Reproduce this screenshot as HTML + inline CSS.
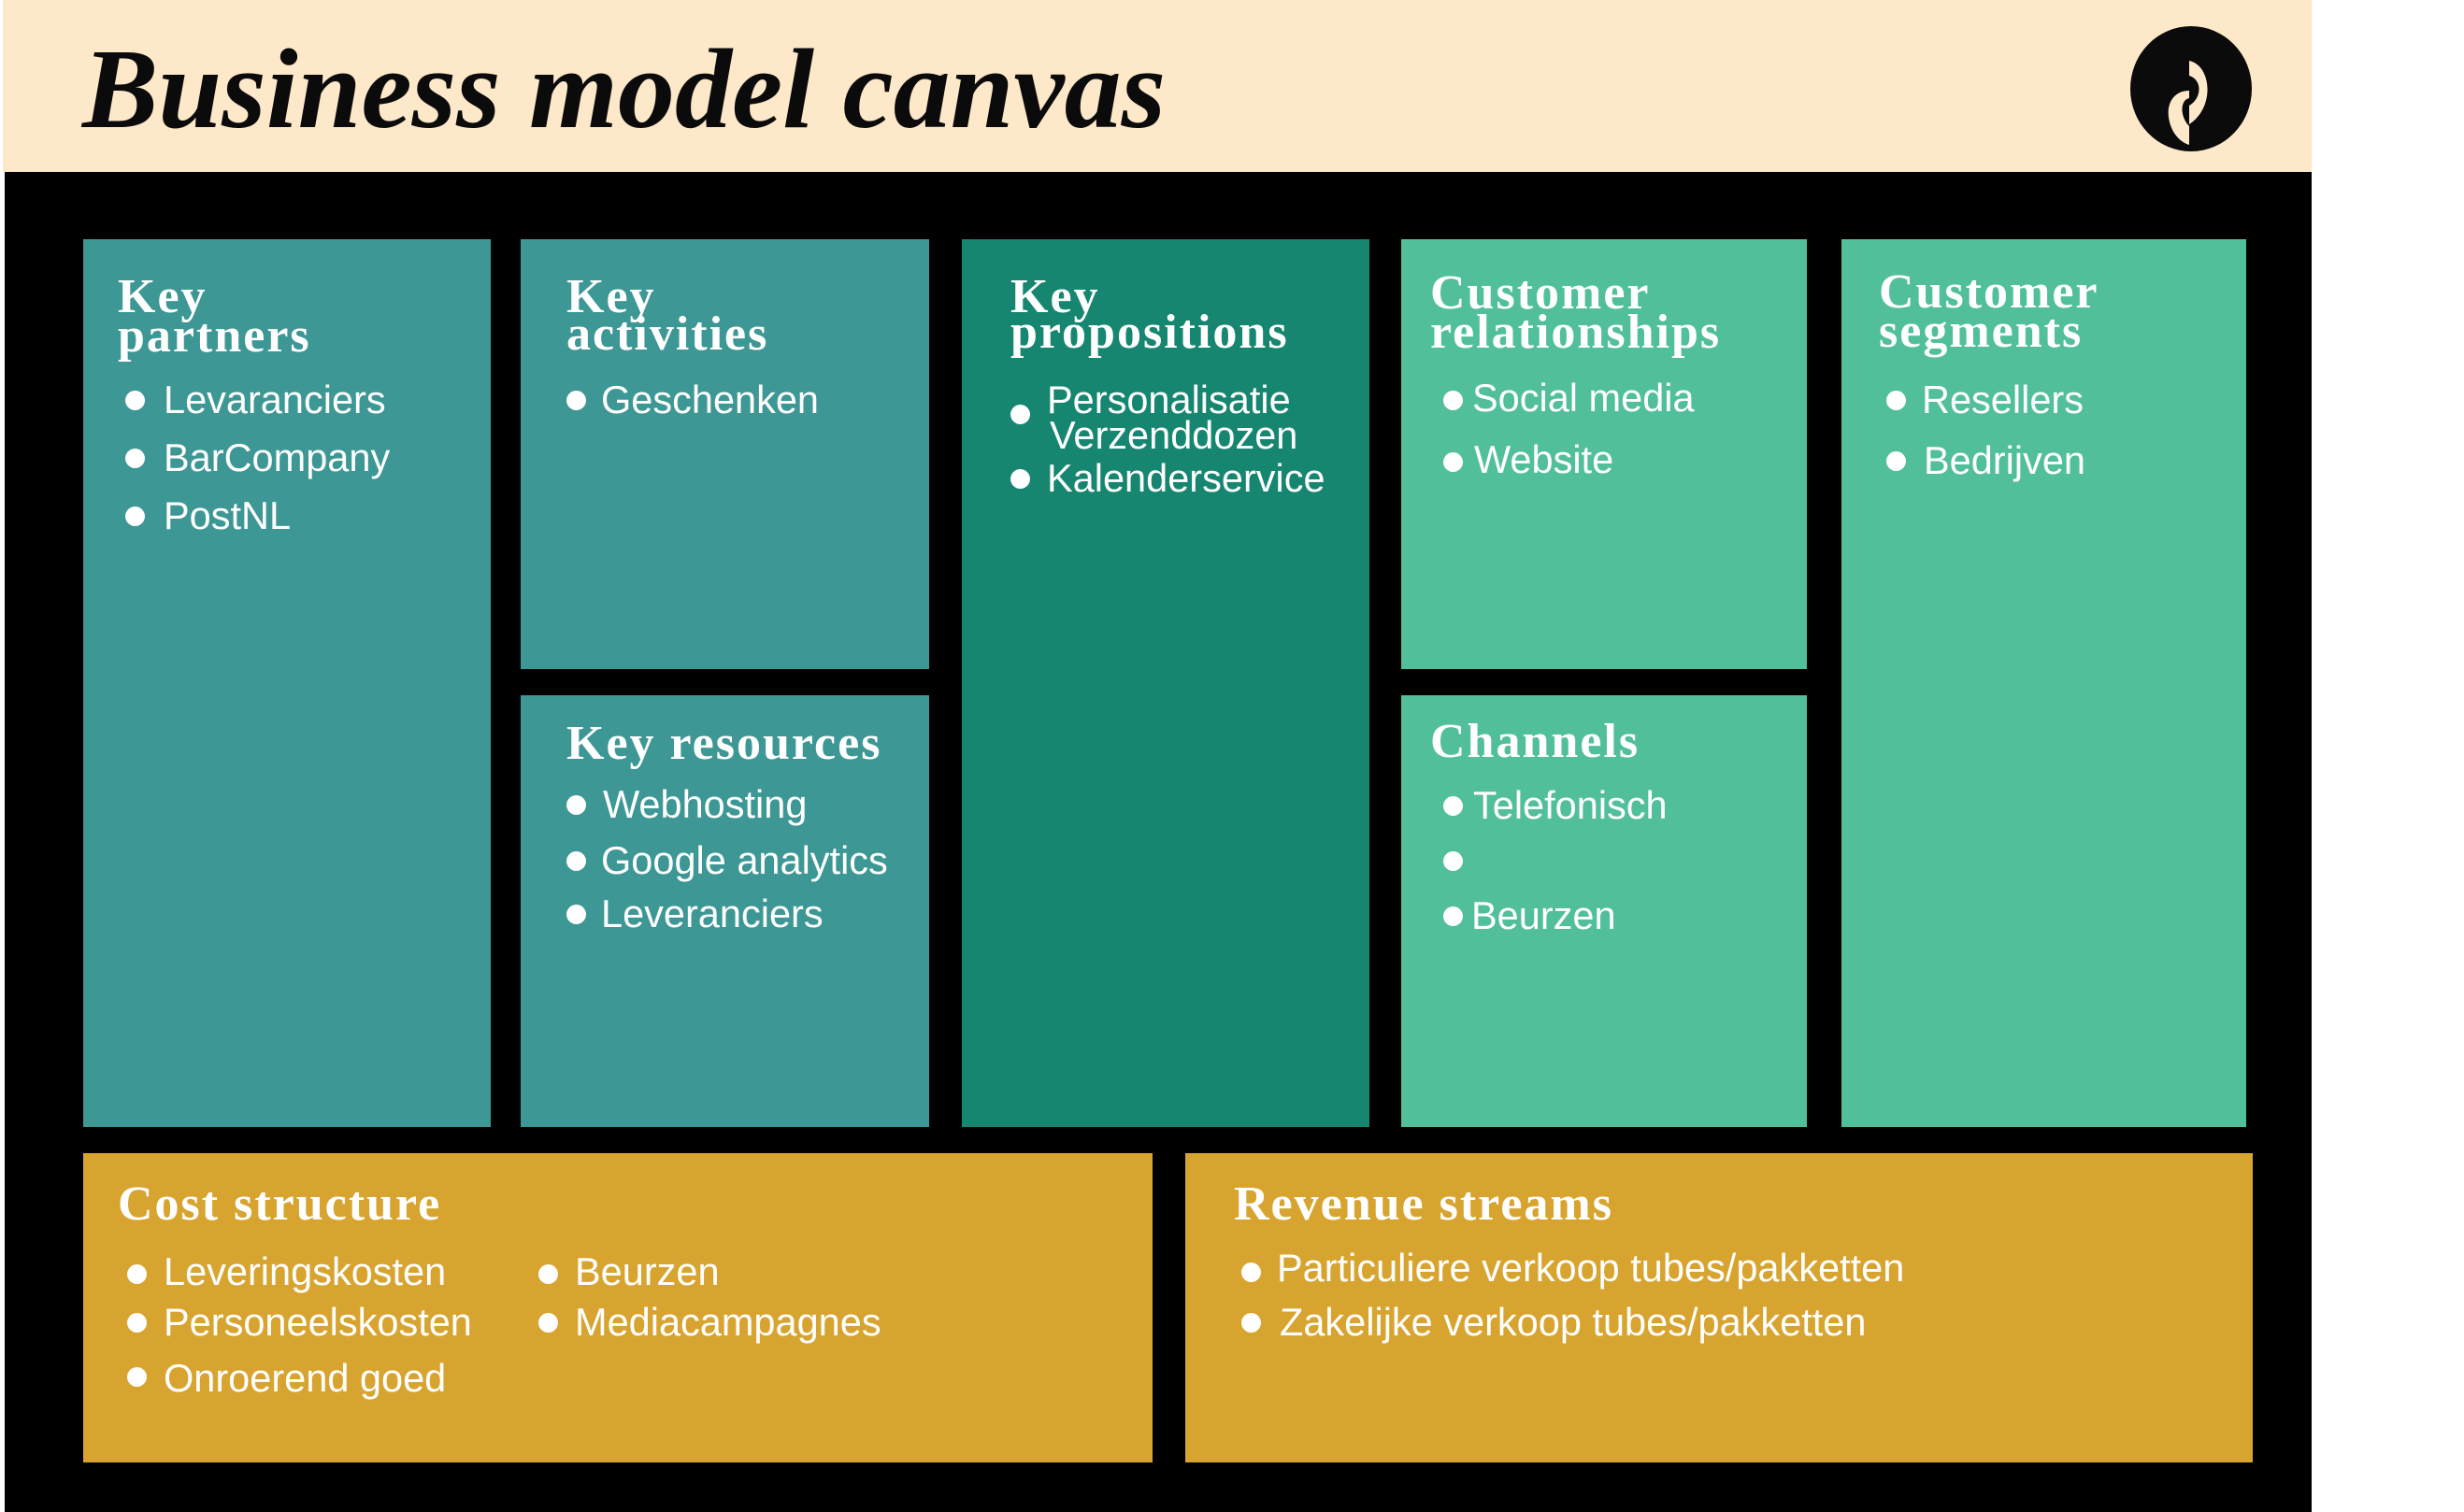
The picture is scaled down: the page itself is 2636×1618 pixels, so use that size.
<!DOCTYPE html>
<html><head><meta charset="utf-8"><style>
*{margin:0;padding:0;box-sizing:border-box}
body{width:2636px;height:1618px;background:#fff;position:relative;overflow:hidden;font-family:"Liberation Sans",sans-serif}
.a{position:absolute}
.box{position:absolute}
.h{position:absolute;font-family:"Liberation Serif",serif;font-weight:bold;font-size:52px;letter-spacing:2px;line-height:1;color:#fff;white-space:nowrap}
.t{position:absolute;font-size:41.5px;line-height:1;color:#fff;white-space:nowrap}
.d{position:absolute;width:21px;height:21px;border-radius:50%;background:#fff}
</style></head><body>
<div class="a" style="left:3px;top:0;width:2470px;height:184px;background:#fde8c9"></div>
<div class="a" style="left:88px;top:35px;font-family:'Liberation Serif',serif;font-style:italic;font-weight:bold;font-size:122px;line-height:1;color:#0b0b0b;white-space:nowrap;letter-spacing:0px">Business model canvas</div>
<svg class="a" style="left:2276px;top:25px" width="136" height="140" viewBox="0 0 136 140">
<ellipse cx="68" cy="70" rx="65" ry="67" fill="#0b0b0b"/>
<path d="M66 40 C90 45 94 90 66 108 L66 88 C80 80 80 60 66 56 Z" fill="#fde8c9"/>
<path d="M66 72 C50 72 42 85 44 100 C46 118 58 128 66 130 L66 110 C56 100 56 82 66 80 Z" fill="#fde8c9"/>
</svg>
<div class="a" style="left:5px;top:184px;width:2468px;height:1434px;background:#000"></div>

<div class="box" style="left:89px;top:256px;width:436px;height:950px;background:#3d9794"></div>
<div class="box" style="left:557px;top:256px;width:437px;height:460px;background:#3d9794"></div>
<div class="box" style="left:557px;top:744px;width:437px;height:462px;background:#3d9794"></div>
<div class="box" style="left:1029px;top:256px;width:436px;height:950px;background:#168670"></div>
<div class="box" style="left:1499px;top:256px;width:434px;height:460px;background:#52bf9b"></div>
<div class="box" style="left:1499px;top:744px;width:434px;height:462px;background:#52bf9b"></div>
<div class="box" style="left:1970px;top:256px;width:433px;height:950px;background:#52bf9b"></div>
<div class="box" style="left:89px;top:1234px;width:1144px;height:331px;background:#d8a430"></div>
<div class="box" style="left:1268px;top:1234px;width:1142px;height:331px;background:#d8a430"></div>

<div class="h" style="left:126px;top:292px">Key</div>
<div class="h" style="left:126px;top:334px">partners</div>
<div class="d" style="left:134px;top:418px"></div><div class="t" style="left:175px;top:407px">Levaranciers</div>
<div class="d" style="left:134px;top:480px"></div><div class="t" style="left:175px;top:469px">BarCompany</div>
<div class="d" style="left:134px;top:542px"></div><div class="t" style="left:175px;top:531px">PostNL</div>

<div class="h" style="left:606px;top:292px">Key</div>
<div class="h" style="left:606px;top:332px">activities</div>
<div class="d" style="left:606px;top:418px"></div><div class="t" style="left:643px;top:407px">Geschenken</div>

<div class="h" style="left:606px;top:770px">Key resources</div>
<div class="d" style="left:606px;top:851px"></div><div class="t" style="left:645px;top:840px">Webhosting</div>
<div class="d" style="left:606px;top:911px"></div><div class="t" style="left:643px;top:900px">Google analytics</div>
<div class="d" style="left:606px;top:968px"></div><div class="t" style="left:643px;top:957px">Leveranciers</div>

<div class="h" style="left:1081px;top:292px">Key</div>
<div class="h" style="left:1081px;top:330px">propositions</div>
<div class="d" style="left:1081px;top:433px"></div>
<div class="t" style="left:1120px;top:407px">Personalisatie</div>
<div class="t" style="left:1123px;top:445px">Verzenddozen</div>
<div class="d" style="left:1081px;top:502px"></div><div class="t" style="left:1120px;top:491px">Kalenderservice</div>

<div class="h" style="left:1530px;top:288px">Customer</div>
<div class="h" style="left:1530px;top:330px">relationships</div>
<div class="d" style="left:1544px;top:418px"></div><div class="t" style="left:1575px;top:405px">Social media</div>
<div class="d" style="left:1544px;top:484px"></div><div class="t" style="left:1577px;top:471px">Website</div>

<div class="h" style="left:1530px;top:768px">Channels</div>
<div class="d" style="left:1544px;top:852px"></div><div class="t" style="left:1576px;top:841px">Telefonisch</div>
<div class="d" style="left:1544px;top:911px"></div>
<div class="d" style="left:1544px;top:970px"></div><div class="t" style="left:1574px;top:959px">Beurzen</div>

<div class="h" style="left:2010px;top:287px">Customer</div>
<div class="h" style="left:2010px;top:329px">segments</div>
<div class="d" style="left:2018px;top:418px"></div><div class="t" style="left:2056px;top:407px">Resellers</div>
<div class="d" style="left:2018px;top:483px"></div><div class="t" style="left:2058px;top:472px">Bedrijven</div>

<div class="h" style="left:126px;top:1263px">Cost structure</div>
<div class="d" style="left:136px;top:1353px"></div><div class="t" style="left:175px;top:1340px">Leveringskosten</div>
<div class="d" style="left:136px;top:1405px"></div><div class="t" style="left:175px;top:1394px">Personeelskosten</div>
<div class="d" style="left:136px;top:1463px"></div><div class="t" style="left:175px;top:1454px">Onroerend goed</div>
<div class="d" style="left:576px;top:1353px"></div><div class="t" style="left:615px;top:1340px">Beurzen</div>
<div class="d" style="left:576px;top:1405px"></div><div class="t" style="left:615px;top:1394px">Mediacampagnes</div>

<div class="h" style="left:1320px;top:1263px">Revenue streams</div>
<div class="d" style="left:1328px;top:1351px"></div><div class="t" style="left:1366px;top:1336px">Particuliere verkoop tubes/pakketten</div>
<div class="d" style="left:1328px;top:1405px"></div><div class="t" style="left:1369px;top:1394px">Zakelijke verkoop tubes/pakketten</div>
</body></html>
